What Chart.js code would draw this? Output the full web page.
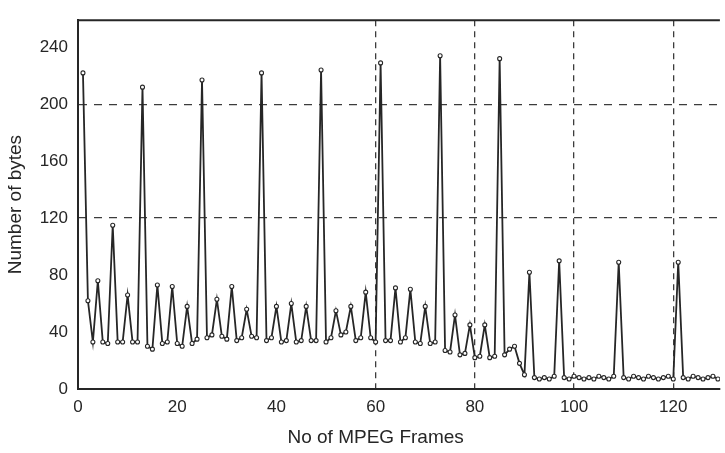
<!DOCTYPE html>
<html>
<head>
<meta charset="utf-8">
<script src="https://cdn.jsdelivr.net/npm/chart.js@4/dist/chart.umd.min.js"></script>
<style>
  html, body { margin: 0; padding: 0; background: #ffffff; }
  #wrap { width: 725px; height: 453px; }
</style>
</head>
<body>
<div id="wrap"><canvas id="chart" width="725" height="453"></canvas></div>
<script>
"use strict";

// bytes per frame, starting at frame 1
const FIRST_FRAME = 1;
const bytes = [
  222, 62, 33, 76, 33, 32, 115, 33, 33, 66, 33, 33,
  212, 30, 28, 73, 32, 33, 72, 32, 30, 58, 32, 35,
  217, 36, 38, 63, 37, 35, 72, 34, 36, 56, 37, 36,
  222, 34, 36, 58, 33, 34, 60, 33, 34, 58, 34, 34,
  224, 33, 36, 55, 38, 40, 58, 34, 36, 68, 36, 33,
  229, 34, 34, 71, 33, 36, 70, 33, 32, 58, 32, 33,
  234, 27, 26, 52, 24, 25, 45, 22, 23, 45, 22, 23,
  232, 24, 28, 30, 18, 10, 82, 8, 7, 8, 7, 9,
  90, 8, 7, 9, 8, 7, 8, 7, 9, 8, 7, 9,
  89, 8, 7, 9, 8, 7, 9, 8, 7, 8, 9, 7,
  89, 8, 7, 9, 8, 7, 8, 9, 7,
];

const X_MAX = 129.4;
const Y_MAX = 259;
const xTickValues = [0, 20, 40, 60, 80, 100, 120];
const yTickValues = [0, 40, 80, 120, 160, 200, 240];
const xGridAt = [60, 80, 100, 120];
const yGridAt = [0, 120, 200];
const xTitle = "No of MPEG Frames";
const yTitle = "Number of bytes";

const INK = "#262626";
const FONT = "'Liberation Sans', Arial, sans-serif";

const points = bytes.map((v, i) => ({ x: FIRST_FRAME + i, y: v }));

// top frame line and the x title (centred under the 60 tick like the original)
const framePlugin = {
  id: "frame",
  afterDraw(chart) {
    const { ctx, chartArea, scales } = chart;
    ctx.save();
    ctx.strokeStyle = INK;
    ctx.lineWidth = 2;
    ctx.beginPath();
    ctx.moveTo(chartArea.left - 1, chartArea.top);
    ctx.lineTo(chartArea.right, chartArea.top);
    ctx.stroke();

    ctx.fillStyle = INK;
    ctx.font = "19px " + FONT;
    ctx.textAlign = "center";
    ctx.textBaseline = "middle";
    ctx.fillText(xTitle, scales.x.getPixelForValue(60), chartArea.bottom + 49);
    ctx.restore();
  },
};

new Chart(document.getElementById("chart"), {
  type: "line",
  data: {
    datasets: [{
      data: points,
      borderColor: INK,
      borderWidth: 1.8,
      tension: 0,
      pointRadius: 2,
      pointStyle: "circle",
      pointBorderWidth: 1.1,
      pointBorderColor: INK,
      pointBackgroundColor: "#ffffff",
    }],
  },
  options: {
    responsive: false,
    animation: false,
    layout: { padding: { top: 6, right: 0, left: 0, bottom: 0 } },
    plugins: {
      legend: { display: false },
      tooltip: { enabled: false },
    },
    scales: {
      x: {
        type: "linear",
        min: 0,
        max: X_MAX,
        afterBuildTicks: (scale) => {
          scale.ticks = xTickValues.map((v) => ({ value: v }));
        },
        afterFit: (scale) => { scale.height = 64; },
        ticks: {
          color: INK,
          padding: 8,
          font: { family: FONT, size: 17 },
        },
        grid: {
          drawTicks: false,
          lineWidth: 1.3,
          color: (ctx) => (ctx.tick && xGridAt.includes(ctx.tick.value) ? "#3c3c3c" : "rgba(0,0,0,0)"),
        },
        border: { display: true, color: INK, width: 2, dash: [6, 5] },
      },
      y: {
        min: 0,
        max: Y_MAX,
        afterBuildTicks: (scale) => {
          scale.ticks = yTickValues.map((v) => ({ value: v }));
        },
        afterFit: (scale) => { scale.width = 78; },
        ticks: {
          color: INK,
          padding: 10,
          font: { family: FONT, size: 17 },
        },
        grid: {
          drawTicks: false,
          lineWidth: 1.3,
          color: (ctx) => (ctx.tick && yGridAt.includes(ctx.tick.value) ? "#3c3c3c" : "rgba(0,0,0,0)"),
        },
        border: { display: true, color: INK, width: 2, dash: [8, 7] },
        title: {
          display: true,
          text: yTitle,
          color: INK,
          font: { family: FONT, size: 19 },
          padding: { top: 4, bottom: 0 },
        },
      },
    },
  },
  plugins: [framePlugin],
});
</script>
</body>
</html>
